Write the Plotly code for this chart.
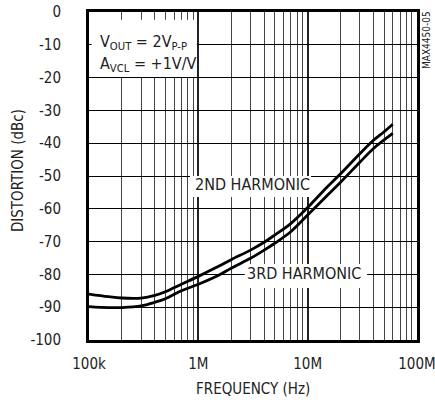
import plotly.graph_objects as go

# ---- data ----
freq_hz = [1e5, 1.5e5, 2e5, 3e5, 4e5, 5e5, 7e5, 1e6, 1.5e6, 2e6, 3e6, 4e6, 5e6, 7e6,
           1e7, 1.5e7, 2e7, 3e7, 4e7, 5e7, 6e7]
hd2_dbc = [-86.0, -86.8, -87.2, -87.2, -86.4, -85.3, -83.0, -80.6, -77.7, -75.5, -72.6,
           -70.2, -68.0, -64.5, -59.6, -53.4, -49.3, -43.2, -39.1, -36.5, -34.2]
hd3_dbc = [-89.8, -90.1, -90.1, -89.6, -88.5, -87.4, -85.0, -83.0, -80.4, -78.1, -75.1,
           -72.6, -70.5, -67.0, -61.9, -56.0, -51.9, -45.8, -41.6, -39.0, -37.0]

x_major = [1e5, 1e6, 1e7, 1e8]
x_major_labels = ["100k", "1M", "10M", "100M"]
x_minor = [m * d for d in (1e5, 1e6, 1e7) for m in range(2, 10)]
y_ticks = [0, -10, -20, -30, -40, -50, -60, -70, -80, -90, -100]
y_tick_labels = ["0", "-10", "-20", "-30", "-40", "-50", "-60", "-70", "-80", "-90", "-100"]

FONT = "DejaVu Sans Condensed, Liberation Sans Narrow, sans-serif"
INK = "#222"

fig = go.Figure()
for vals in (hd2_dbc, hd3_dbc):
    fig.add_trace(go.Scatter(x=freq_hz, y=vals, mode="lines",
                             line=dict(color="black", width=2.8, shape="spline"),
                             hoverinfo="skip"))

fig.update_layout(
    width=435, height=403,
    margin=dict(l=89, r=18, t=12, b=63, autoexpand=False),
    paper_bgcolor="white", plot_bgcolor="white",
    showlegend=False,
    font=dict(family=FONT, size=15, color=INK),
)

fig.update_xaxes(
    type="log", range=[4.99995, 8.00005], automargin=False,
    tickvals=x_major, ticktext=x_major_labels, ticklabeloverflow="allow",
    showgrid=True, gridcolor="#222", gridwidth=2,
    minor=dict(tickvals=x_minor, showgrid=True, gridcolor="#444", gridwidth=1, ticks=""),
    ticks="outside", ticklen=0, ticklabelstandoff=8,
    showline=True, linecolor="black", linewidth=3, mirror=True,
    zeroline=False, tickfont=dict(size=15),
)
fig.update_yaxes(
    range=[-100, 0], automargin=False,
    tickvals=y_ticks, ticktext=y_tick_labels, ticklabeloverflow="allow",
    showgrid=True, gridcolor="black", gridwidth=1,
    ticks="outside", ticklen=0, ticklabelstandoff=22,
    showline=True, linecolor="black", linewidth=3, mirror=True,
    zeroline=False, tickfont=dict(size=15),
)

# white boxes behind labels (cover gridlines, clear of the curves)
for (x0, x1, y0, y1) in [(0.008, 0.329, 0.802, 0.976),
                         (0.308, 0.677, 0.436, 0.500),
                         (0.475, 0.848, 0.1585, 0.232)]:
    fig.add_shape(type="rect", xref="paper", yref="paper", x0=x0, x1=x1, y0=y0, y1=y1,
                  fillcolor="white", line=dict(width=0), layer="above")

ann = dict(xref="paper", yref="paper", showarrow=False, font=dict(family=FONT, size=16, color=INK))
fig.add_annotation(text="V<sub>OUT</sub> = 2V<sub>P-P</sub>", x=0.0274, y=0.9055,
                   xanchor="left", yanchor="middle", **ann)
fig.add_annotation(text="A<sub>VCL</sub> = +1V/V", x=0.0274, y=0.841,
                   xanchor="left", yanchor="middle", **ann)
fig.add_annotation(text="2ND HARMONIC", x=0.4985, y=0.4726, xanchor="center", yanchor="middle", **ann)
fig.add_annotation(text="3RD HARMONIC", x=0.654, y=0.2027, xanchor="center", yanchor="middle", **ann)
fig.add_annotation(text="MAX4450-05", x=1.0274, y=0.9146, textangle=-90,
                   xanchor="center", yanchor="middle", xref="paper", yref="paper",
                   showarrow=False, font=dict(family=FONT, size=10, color=INK))
fig.add_annotation(text="FREQUENCY (Hz)", x=0.5, y=-0.149, xanchor="center", yanchor="middle",
                   xref="paper", yref="paper", showarrow=False, font=dict(family=FONT, size=15, color=INK))
fig.add_annotation(text="DISTORTION (dBc)", x=-0.2165, y=0.518, textangle=-90,
                   xanchor="center", yanchor="middle", xref="paper", yref="paper",
                   showarrow=False, font=dict(family=FONT, size=15, color=INK))

fig.write_html("out.html", config={"displayModeBar": False},
               post_script="document.body.style.margin='0';")
